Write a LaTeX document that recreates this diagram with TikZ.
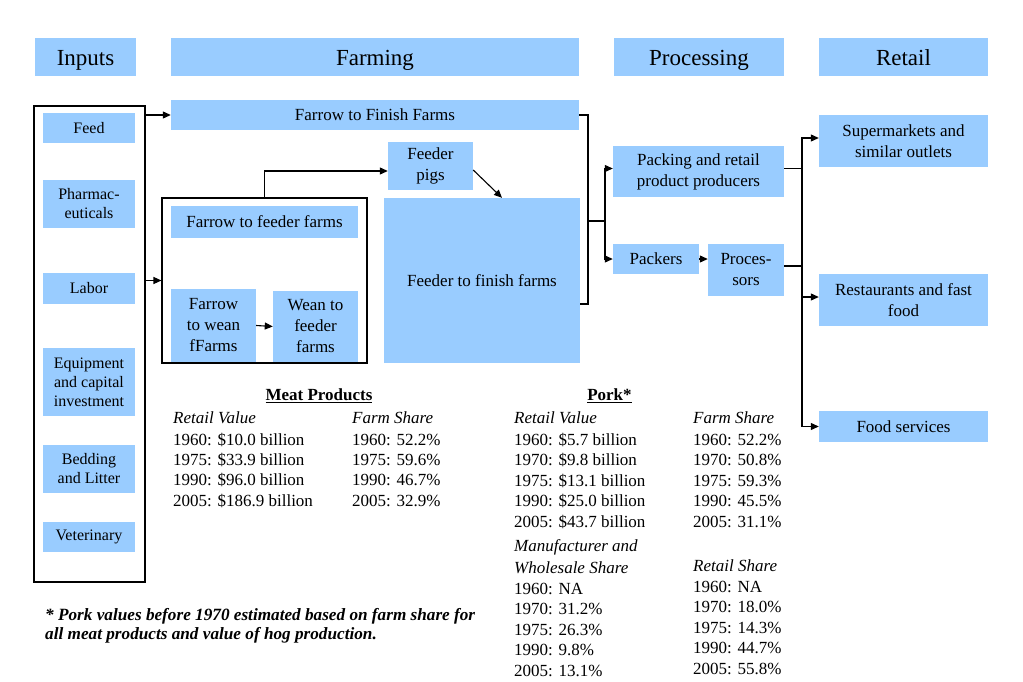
\documentclass[tikz,border=0pt]{standalone}
\usepackage{fontspec}
\setmainfont{LiberationSerif}[Extension=.ttf, UprightFont=*-Regular, BoldFont=*-Bold, ItalicFont=*-Italic, BoldItalicFont=*-BoldItalic]
\usetikzlibrary{arrows.meta}
\definecolor{boxblue}{RGB}{153,204,255}
\begin{document}
\begin{tikzpicture}[x=1pt,y=-1pt,
  wh/.style 2 args={minimum width=#1pt, minimum height=#2pt},
  box/.style={fill=boxblue, draw=none, inner sep=0pt, align=center, font=\rmfamily\fontsize{17}{21}\selectfont},
  head/.style={box, font=\rmfamily\fontsize{23}{27}\selectfont, text height=17pt, text depth=0pt},
  inbox/.style={box, font=\rmfamily\fontsize{16}{19}\selectfont},
  frame/.style={draw=black, line width=1.1pt, inner sep=0pt, fill=none},
  conn/.style={line width=1.1pt},
  arr/.style={conn, -{Triangle[length=8pt,width=7pt]}},
  txt/.style={anchor=base west, inner sep=0pt, font=\rmfamily\fontsize{17}{21}\selectfont},
  ttl/.style={anchor=base, inner sep=0pt, font=\rmfamily\fontsize{17}{21}\selectfont\bfseries},
]
\useasboundingbox (0,0) rectangle (1023,682);
\fill[white] (0,0) rectangle (1023,682);

% headers
\node[head, wh={101}{38}] (hin) at (85.5,57) {Inputs};
\node[head, wh={408}{38}] (hfarm) at (375,57) {Farming};
\node[head, wh={170}{38}] (hproc) at (699,57) {Processing};
\node[head, wh={169}{38}] (hret) at (903.5,57) {Retail};

% inputs
\node[frame, wh={111}{476}] (infr) at (89.5,344) {};
\node[inbox, wh={92}{30}] (feed) at (89,128) {Feed};
\node[inbox, wh={92}{48}] (pharm) at (89,204) {Pharmac-\\euticals};
\node[inbox, wh={92}{31}] (labor) at (89,288.5) {Labor};
\node[inbox, wh={92}{68}] (equip) at (89,382) {Equipment\\and capital\\investment};
\node[inbox, wh={92}{48}] (bed) at (89,469) {Bedding\\and Litter};
\node[inbox, wh={92}{30}] (vet) at (89,537) {Veterinary};

% farming
\node[box, wh={408}{30}] (f2f) at (375,115) {Farrow to Finish Farms};
\node[frame, wh={205}{165}] (farmfr) at (264.5,280.5) {};
\node[box, wh={187}{32}] (f2feed) at (264.5,222) {Farrow to feeder farms};
\node[box, wh={85}{73}] (f2wean) at (213.5,325.5) {Farrow\\to wean\\fFarms};
\node[box, wh={85}{71}] (wean) at (315.5,326.5) {Wean to\\feeder\\farms};
\node[box, wh={85}{48}] (pigs) at (430.5,166) {Feeder\\pigs};
\node[box, wh={196}{165}] (feedfin) at (482,280.5) {Feeder to finish farms};

% processing
\node[box, wh={171}{51}] (packing) at (698.5,171.5) {Packing and retail\\product producers};
\node[box, wh={86}{30}] (packers) at (656,259) {Packers};
\node[box, wh={76}{52}] (procs) at (746,270) {Proces-\\sors};

% retail
\node[box, wh={169}{52}] (super) at (903.5,141) {Supermarkets and\\similar outlets};
\node[box, wh={169}{52}] (rest) at (903.5,300) {Restaurants and fast\\food};
\node[box, wh={169}{31}] (foodsvc) at (903.5,426.5) {Food services};

% connectors
\draw[arr] (infr.east |- f2f.west) -- (f2f.west);
\draw[arr] (infr.east |- farmfr.west) -- (farmfr.west);
\draw[arr] (farmfr.north) |- ([yshift=-5pt]pigs.west);
\draw[arr] ([yshift=-4pt]pigs.east) -- ([xshift=20pt]feedfin.north);
\draw[arr] (f2wean.east) -- (wean.west);

\coordinate (bL) at (588,221);
\coordinate (pj) at (605,221);
\draw[conn] (f2f.east) -| (bL);
\draw[conn] ([yshift=-23.5pt]feedfin.east) -| (bL);
\draw[conn] (bL) -- (pj);
\draw[arr] (pj) |- ([yshift=3pt]packing.west);
\draw[arr] (pj) |- (packers.west);
\draw[arr] (packers.east) -- (procs.west |- packers.east);

\coordinate (rx) at (802,300);
\draw[conn] ([yshift=3pt]packing.east) -- ([yshift=3pt]packing.east -| rx);
\draw[conn] ([yshift=4pt]procs.east) -- ([yshift=4pt]procs.east -| rx);
\draw[arr] (rx) |- ([yshift=3pt]super.west);
\draw[arr] ([yshift=3pt]rx) -- ([yshift=3pt]rest.west);
\draw[arr] (rx) |- (foodsvc.west);

% Meat products table
\node[ttl] (mpt) at (319,400.5) {\underline{Meat Products}};
\node[txt, font=\rmfamily\fontsize{17}{21}\selectfont\itshape] (mrv) at (173,423) {Retail Value};
\node[txt, font=\rmfamily\fontsize{17}{21}\selectfont\itshape] (mfs) at (352,423) {Farm Share};
\foreach \t [count=\i] in {1960: \$10.0 billion, 1975: \$33.9 billion, 1990: \$96.0 billion, 2005: \$186.9 billion}
  \node[txt] (mrv\i) at (173,{445+20.4*(\i-1)}) {\t};
\foreach \t [count=\i] in {1960: 52.2\%, 1975: 59.6\%, 1990: 46.7\%, 2005: 32.9\%}
  \node[txt] (mfs\i) at (352,{445+20.4*(\i-1)}) {\t};

% Pork table
\node[ttl] (pkt) at (609.5,400.5) {\underline{Pork*}};
\node[txt, font=\rmfamily\fontsize{17}{21}\selectfont\itshape] (prv) at (514,423) {Retail Value};
\node[txt, font=\rmfamily\fontsize{17}{21}\selectfont\itshape] (pfs) at (693,423) {Farm Share};
\foreach \t [count=\i] in {1960: \$5.7 billion, 1970: \$9.8 billion, 1975: \$13.1 billion, 1990: \$25.0 billion, 2005: \$43.7 billion}
  \node[txt] (prv\i) at (514,{445+20.5*(\i-1)}) {\t};
\foreach \t [count=\i] in {1960: 52.2\%, 1970: 50.8\%, 1975: 59.3\%, 1990: 45.5\%, 2005: 31.1\%}
  \node[txt] (pfs\i) at (693,{445+20.5*(\i-1)}) {\t};
\node[txt, font=\rmfamily\fontsize{17}{21}\selectfont\itshape] (pmw1) at (514,551.7) {Manufacturer and};
\node[txt, font=\rmfamily\fontsize{17}{21}\selectfont\itshape] (pmw2) at (514,573) {Wholesale Share};
\foreach \t [count=\i] in {1960: NA, 1970: 31.2\%, 1975: 26.3\%, 1990: 9.8\%, 2005: 13.1\%}
  \node[txt] (pmw\i x) at (514,{594+20.6*(\i-1)}) {\t};
\node[txt, font=\rmfamily\fontsize{17}{21}\selectfont\itshape] (prs) at (693,571.7) {Retail Share};
\foreach \t [count=\i] in {1960: NA, 1970: 18.0\%, 1975: 14.3\%, 1990: 44.7\%, 2005: 55.8\%}
  \node[txt] (prs\i) at (693,{592+20.5*(\i-1)}) {\t};

% footnote
\node[txt, font=\rmfamily\fontsize{17.2}{20}\selectfont\bfseries\itshape] (fn1) at (45,620) {* Pork values before 1970 estimated based on farm share for};
\node[txt, font=\rmfamily\fontsize{17.2}{20}\selectfont\bfseries\itshape] (fn2) at (45,639.5) {all meat products and value of hog production.};
\end{tikzpicture}
\end{document}
